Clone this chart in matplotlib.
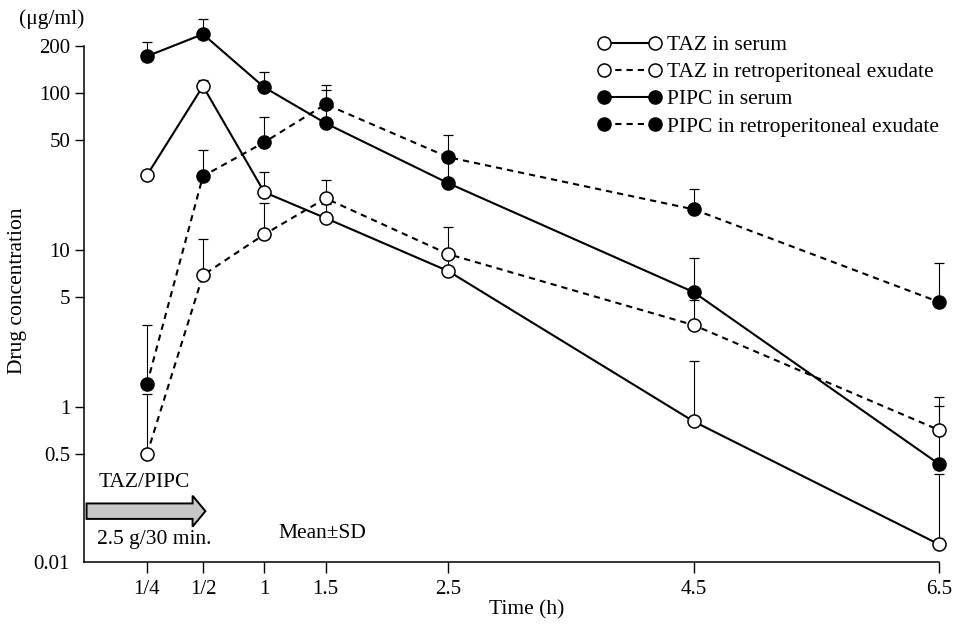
import numpy as np
import matplotlib
matplotlib.use("Agg")
import matplotlib.pyplot as plt
from matplotlib.lines import Line2D
from matplotlib.patches import FancyArrow

plt.rcParams["font.family"] = ["Liberation Serif", "DejaVu Serif"]

# sampling times (h) and their labels
times = [0.25, 0.5, 1, 1.5, 2.5, 4.5, 6.5]
time_labels = ["1/4", "1/2", "1", "1.5", "2.5", "4.5", "6.5"]

# mean and SD (ug/ml)
taz_serum = [30.0, 111, 23.4, 16.0, 7.35, 0.81, 0.019]
taz_serum_sd = [0, 10, 8.0, 3.6, 1.85, 1.15, 0.225]
taz_exudate = [0.50, 6.93, 12.6, 21.4, 9.43, 3.33, 0.714]
taz_exudate_sd = [0.71, 4.8, 7.3, 6.5, 4.6, 1.5, 0.45]
pipc_serum = [172, 238, 109, 64.4, 26.7, 5.4, 0.351]
pipc_serum_sd = [39, 58, 27, 40, 10.7, 3.5, 0.66]
pipc_exudate = [1.40, 29.6, 48.7, 85.1, 39.1, 18.2, 4.67]
pipc_exudate_sd = [1.93, 13.7, 21.6, 27, 14.9, 6.3, 3.6]

y_ticks = [0.01, 0.5, 1, 5, 10, 50, 100, 200]
y_tick_labels = ["0.01", "0.5", "1", "5", "10", "50", "100", "200"]


# x axis: first half hour is drawn stretched
STRETCH = 1.826


def x_fwd(t):
    t = np.asarray(t, float)
    return np.where(t < 0.5, (t - 0.5) * STRETCH, t - 0.5)


def x_inv(u):
    u = np.asarray(u, float)
    return np.where(u < 0, u / STRETCH + 0.5, u + 0.5)


# y axis: log scale, squeezed below 0.5
LOG_BRK = np.log10(0.5)
SQUEEZE = 0.404


def y_fwd(v):
    lv = np.log10(np.clip(np.asarray(v, float), 1e-9, None))
    return np.where(lv < LOG_BRK, LOG_BRK + (lv - LOG_BRK) * SQUEEZE, lv)


def y_inv(p):
    p = np.asarray(p, float)
    return 10 ** np.where(p < LOG_BRK, LOG_BRK + (p - LOG_BRK) / SQUEEZE, p)


fig = plt.figure(figsize=(9.58, 6.28), dpi=100)
ax = fig.add_axes([84 / 958, 66 / 628, (939 - 84) / 958, 516 / 628])
ax.set_xscale("function", functions=(x_fwd, x_inv))
ax.set_yscale("function", functions=(y_fwd, y_inv))
ax.set_xlim(-0.031, 6.5)
ax.set_ylim(0.01, 200)

series = [
    (taz_serum, taz_serum_sd, "white", "-", "TAZ in serum"),
    (taz_exudate, taz_exudate_sd, "white", (0, (3, 2.4)), "TAZ in retroperitoneal exudate"),
    (pipc_serum, pipc_serum_sd, "black", "-", "PIPC in serum"),
    (pipc_exudate, pipc_exudate_sd, "black", (0, (3, 2.4)), "PIPC in retroperitoneal exudate"),
]

handles = []
for vals, sd, fill, ls, label in series:
    ax.errorbar(times, vals, yerr=[np.zeros(len(sd)), sd], fmt="none",
                ecolor="black", elinewidth=0.8, capsize=3.3, capthick=0.9,
                zorder=2, clip_on=False)
    ax.plot(times, vals, linestyle=ls, color="black", lw=1.5,
            marker="o", ms=9.4, mfc=fill, mec="black", mew=1.1,
            zorder=3, clip_on=False)
    handles.append(Line2D([], [], linestyle=ls, color="black", lw=1.5,
                          marker="o", ms=9.4, mfc=fill, mec="black", mew=1.1))

ax.legend(handles, [s[4] for s in series], loc="upper left",
          bbox_to_anchor=(597.5 / 958, 1 - 35 / 628), bbox_transform=fig.transFigure,
          frameon=False, numpoints=2, handlelength=2.95, handletextpad=0.3,
          labelspacing=0.33, borderpad=0, borderaxespad=0, fontsize=15.5)

# axes look
for side in ["top", "right"]:
    ax.spines[side].set_visible(False)
for side in ["left", "bottom"]:
    ax.spines[side].set_linewidth(1.1)

ax.set_xticks(times)
ax.set_xticklabels(time_labels)
ax.set_yticks(y_ticks)
ax.set_yticklabels(y_tick_labels)
ax.xaxis.set_minor_locator(plt.NullLocator())
ax.yaxis.set_minor_locator(plt.NullLocator())
ax.tick_params(axis="x", direction="out", length=8, width=1, labelsize=15, pad=5)
ax.tick_params(axis="y", direction="out", length=6.5, width=1, labelsize=15, pad=3.5)
ax.yaxis.get_major_ticks()[0].tick1line.set_visible(False)

ax.set_xlabel("Time (h)", fontsize=15.5)
ax.xaxis.set_label_coords(0.518, -0.074)
ax.set_ylabel("Drug concentration", fontsize=15.5)
ax.yaxis.set_label_coords(-0.067, 0.525)
fig.text(52 / 958, 1 - 19 / 628, "(μg/ml)", fontsize=15.5, ha="center", va="center")

# infusion arrow and notes
arrow = FancyArrow(0.003, 0.0985, 0.139, 0, width=0.030, head_width=0.060,
                   head_length=0.015, length_includes_head=True,
                   transform=ax.transAxes, facecolor="#c6c6c6",
                   edgecolor="black", lw=1.4, clip_on=False)
ax.add_patch(arrow)
ax.text(0.0705, 0.155, "TAZ/PIPC", transform=ax.transAxes, fontsize=15.5,
        ha="center", va="center")
ax.text(0.015, 0.043, "2.5 g/30 min.", transform=ax.transAxes, fontsize=15.5,
        ha="left", va="center")
ax.text(0.227, 0.056, "Mean±SD", transform=ax.transAxes, fontsize=15.5,
        ha="left", va="center")

fig.savefig("out.png", dpi=100)
